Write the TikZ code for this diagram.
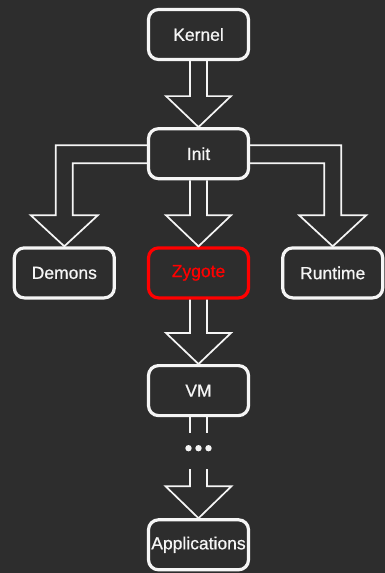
\documentclass[tikz,border=0pt]{standalone}
\usepackage{fontspec}
\setmainfont{Liberation Sans}
\newfontfamily\stagefont{Liberation Sans}[FakeBold=0.7]
\usepackage{tikz}
\usetikzlibrary{positioning,calc}
\definecolor{bootbg}{RGB}{45,45,45}
\definecolor{bootink}{RGB}{245,245,245}
\definecolor{bootred}{RGB}{255,0,0}
\tikzset{
  stage/.style={
    draw=bootink, line width=3.2pt, rounded corners=10pt,
    minimum width=100pt, minimum height=50pt, inner sep=1pt,
    text=bootink, font=\stagefont\fontsize{17.5}{19}\selectfont
  },
  hot/.style={stage, draw=bootred, text=bootred},
  blk/.style={draw=bootink, line width=1.7pt, line join=miter, miter limit=10},
  every picture/.append style={line join=round}
}
\begin{document}
\begin{tikzpicture}[x=1pt,y=1pt,node distance=66pt]
  \fill[bootbg] (0,0) rectangle (385,-573);
  \useasboundingbox (0,0) rectangle (385,-573);
  \node[stage] at (198.5,-34.5) (kernel) {Kernel};
  \node[stage, below=of kernel] (init) {Init};
  \node[hot, below=of init] (zygote) {Zygote};
  \node[stage, left=31pt of zygote] (demons) {Demons};
  \node[stage, right=31pt of zygote] (runtime) {Runtime};
  \node[stage, below=64.5pt of zygote] (vm) {VM};
  \coordinate[below=31pt of vm.south] (dots);
  \node[stage, below=101pt of vm] (apps) {Applications};
  % straight hollow arrows
  \foreach \a/\b in {kernel/init,init/zygote,zygote/vm}
    \draw[blk] let \p1=(\a.south), \p2=(\b.north) in
      (\x1-8.5pt,\y1) -- (\x1-8.5pt,\y2+31pt) -- (\x1-32.5pt,\y2+31pt) -- (\x2,\y2)
      -- (\x1+32.5pt,\y2+31pt) -- (\x1+8.5pt,\y2+31pt) -- (\x1+8.5pt,\y1);
  % bent hollow arrows to the side stages
  \draw[blk] let \p1=(init.west), \p2=(demons.north) in
    (\x1,\y1+8.5pt) -| (\x2-8.5pt,\y2+31pt) -- (\x2-33.5pt,\y2+31pt) -- (\x2,\y2)
    -- (\x2+33.5pt,\y2+31pt) -- (\x2+8.5pt,\y2+31pt) |- (\x1,\y1-9.5pt);
  \draw[blk] let \p1=(init.east), \p2=(runtime.north) in
    (\x1,\y1+8.5pt) -| (\x2+8.5pt,\y2+31pt) -- (\x2+33.5pt,\y2+31pt) -- (\x2,\y2)
    -- (\x2-33.5pt,\y2+31pt) -- (\x2-8.5pt,\y2+31pt) |- (\x1,\y1-9.5pt);
  % vm ... applications
  \draw[blk] (vm.south) ++(-8.5,0) -- ($(dots)+(-8.5,15)$);
  \draw[blk] (vm.south) ++(8.5,0) -- ($(dots)+(8.5,15)$);
  \foreach \d in {-10,0,10} \fill[bootink] ($(dots)+(\d,0)$) circle (3.2);
  \draw[blk] let \p1=(dots), \p2=(apps.north) in
    (\x1-8.5pt,\y1-21pt) -- (\x1-8.5pt,\y2+32pt) -- (\x1-33pt,\y2+32pt) -- (\x2,\y2)
    -- (\x1+33pt,\y2+32pt) -- (\x1+8.5pt,\y2+32pt) -- (\x1+8.5pt,\y1-21pt);
\end{tikzpicture}
\end{document}
